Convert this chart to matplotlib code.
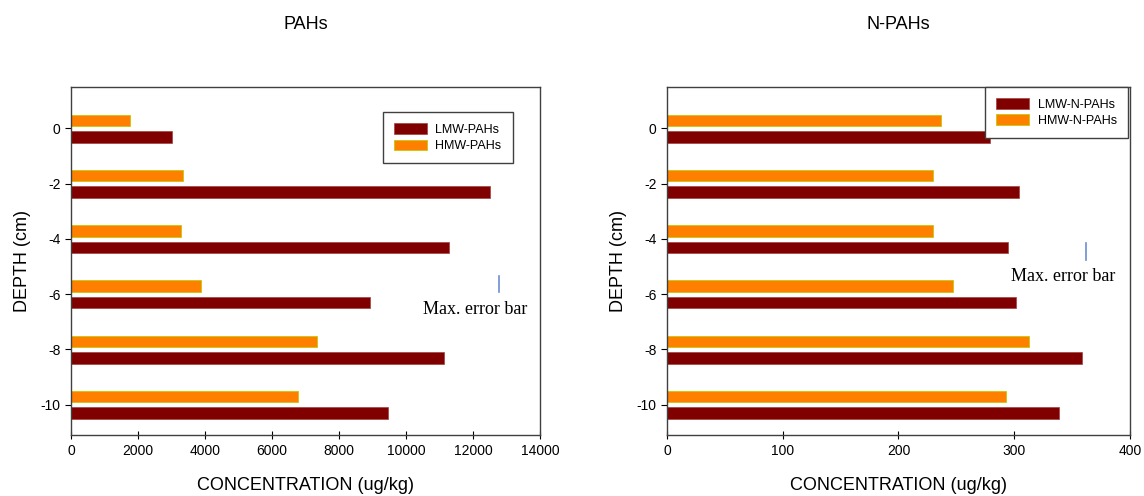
import matplotlib.pyplot as plt
import numpy as np

plt.rcParams['font.family'] = ['Liberation Sans', 'DejaVu Sans']
plt.rcParams['axes.unicode_minus'] = False

depth = [0, -2, -4, -6, -8, -10]
pah_lmw = [3000, 12500, 11280, 8920, 11130, 9460]
pah_hmw = [1750, 3340, 3280, 3880, 7340, 6780]
npah_lmw = [279, 304, 295, 302, 359, 339]
npah_hmw = [237, 230, 230, 247, 313, 293]

red = '#800000'
orange = '#ff8000'

fig = plt.figure(figsize=(11.44, 4.96), dpi=100)
ax1 = fig.add_axes([0.0621, 0.123, 0.41, 0.7016])
ax2 = fig.add_axes([0.583, 0.123, 0.4047, 0.7016])

d = np.array(depth)
h = 0.42


def draw(ax, lmw, hmw, labels, xmax, xticks, errx, erry, txt_xy, leg_anchor):
    ax.barh(d - 0.31, lmw, height=h, color=red, edgecolor='#a04040', linewidth=0.5, label=labels[0])
    ax.barh(d + 0.29, hmw, height=h, color=orange, edgecolor='#c8c800', linewidth=0.6, label=labels[1])
    ax.set_xlim(0, xmax)
    ax.set_ylim(-11.1, 1.5)
    ax.set_xticks(xticks)
    ax.set_yticks(depth)
    ax.tick_params(axis='both', labelsize=10, direction='out', length=4, width=0.8)
    ax.tick_params(axis='x', direction='inout', length=6)
    for s in ax.spines.values():
        s.set_color('#404040')
        s.set_linewidth(1.0)
    ax.set_xlabel('CONCENTRATION (ug/kg)', fontsize=13, labelpad=14)
    ax.set_ylabel('DEPTH (cm)', fontsize=13, labelpad=7)
    ax.plot([errx, errx], erry, color='#6a8fd0', linewidth=1.2)
    ax.text(txt_xy[0], txt_xy[1], 'Max. error bar', fontsize=13,
            family='Liberation Serif', ha='center', va='center')
    ax.legend(loc='upper left', bbox_to_anchor=leg_anchor, borderaxespad=0,
              fontsize=9, frameon=True, fancybox=False, edgecolor='#404040',
              handlelength=2.6, handleheight=0.9, handletextpad=0.7,
              borderpad=0.9, labelspacing=0.3, framealpha=1)


draw(ax1, pah_lmw, pah_hmw, ['LMW-PAHs', 'HMW-PAHs'], 14000,
     [0, 2000, 4000, 6000, 8000, 10000, 12000, 14000],
     12780, [-5.35, -5.92], (12060, -6.55), (0.665, 0.928))
draw(ax2, npah_lmw, npah_hmw, ['LMW-N-PAHs', 'HMW-N-PAHs'], 400,
     [0, 100, 200, 300, 400],
     362, [-4.15, -4.75], (342, -5.35), (0.687, 1.0))

fig.text(0.267, 0.95, 'PAHs', fontsize=13, ha='center', va='center')
fig.text(0.785, 0.95, 'N-PAHs', fontsize=13, ha='center', va='center')

fig.savefig('out.png', dpi=100)
